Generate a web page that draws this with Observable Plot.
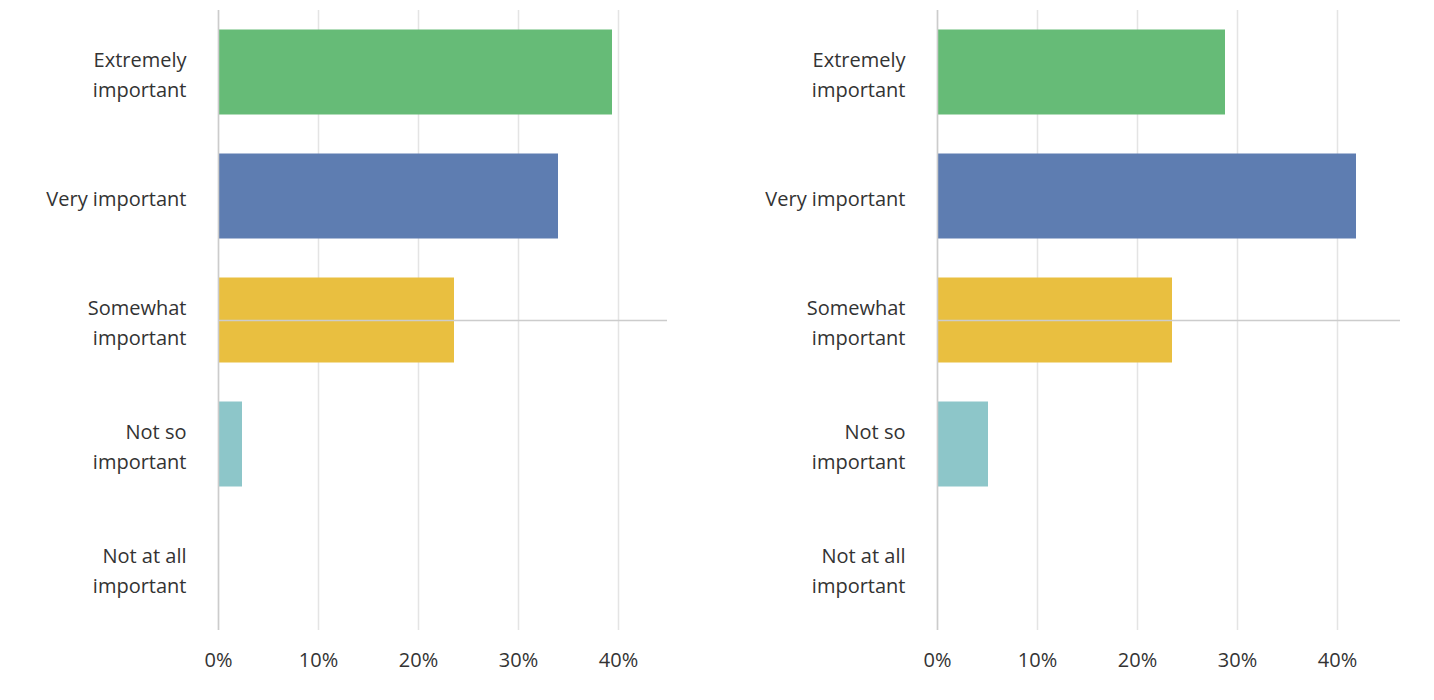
<!DOCTYPE html>
<html><head><meta charset="utf-8">
<script src="https://cdn.jsdelivr.net/npm/d3@7"></script>
<script src="https://cdn.jsdelivr.net/npm/@observablehq/plot@0.6"></script>
<style>body{margin:0;background:#fff;font-family:"Open Sans",sans-serif}#c{display:flex}</style>
</head><body><div id="c"></div>
<script>
const categories = ["Extremely\nimportant","Very important","Somewhat\nimportant","Not so\nimportant","Not at all\nimportant"];
const colors = ["#66bb77","#5e7db1","#e9bf40","#8dc6c9","#cccccc"];
const leftValues = [0.394,0.340,0.236,0.024,0];
const rightValues = [0.288,0.419,0.235,0.051,0];
const ticks = [0,0.1,0.2,0.3,0.4];

function chart(values, marginLeft, xMax, width){
  const data = categories.map((c,i)=>({c, v: values[i], col: colors[i]}));
  return Plot.plot({
    width, height: 690, marginLeft, marginRight: width - marginLeft - 0 - (xMax*1000) , marginTop: 10, marginBottom: 60,
    style:{fontSize:"20px", fontFamily:"Open Sans, sans-serif", color:"#333"},
    x:{domain:[0,xMax], ticks, tickFormat: d3.format(".0%")},
    y:{domain:categories, padding:0, label:null},
    marks:[
      Plot.gridX(ticks,{stroke:"#e4e4e4", strokeOpacity:1, strokeWidth:1.5}),
      Plot.axisX({ticks, tickFormat:d3.format(".0%"), tickSize:0, tickPadding:22, label:null, fontSize:20, fill:"#333"}),
      Plot.axisY({tickSize:0, tickPadding:32, label:null, fontSize:20, lineHeight:1.5, fill:"#333"}),
      Plot.barX(data,{y:"c", x:"v", fill:"col", insetTop:19.5, insetBottom:19.5}),
      Plot.ruleX([0],{stroke:"#ccc", strokeWidth:1.5}),
      Plot.ruleY([0],{frameAnchor:"bottom", y:null, x1:0, x2:xMax, stroke:"#ccc", strokeWidth:1.5})
    ]
  });
}
const c = document.getElementById("c");
c.append(chart(leftValues, 218, 0.449, 700));
c.append(chart(rightValues, 237, 0.463, 734));
</script></body></html>
